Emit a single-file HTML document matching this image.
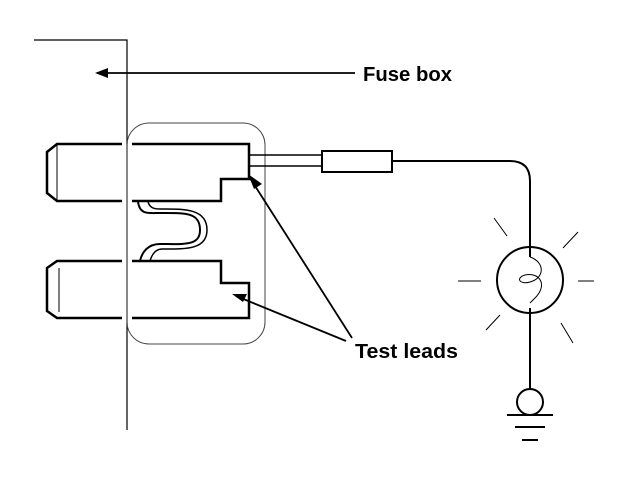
<!DOCTYPE html>
<html><head><style>body{margin:0;background:#fff}svg{display:block}</style></head><body>
<svg width="640" height="498" viewBox="0 0 640 498" xmlns="http://www.w3.org/2000/svg" font-family="Liberation Sans, sans-serif">
<g fill="none" stroke="#000">
<path d="M34 40 H127 V430" stroke-width="1.2"/>
<rect x="127" y="123" width="138" height="221" rx="22" stroke-width="1" stroke="#444"/>
<path d="M122 144 H57 L47 152 V193 L57 201 H122" stroke-width="2.5"/>
<path d="M132 144 H249 V179 H221 V201 H132" stroke-width="2.5"/>
<path d="M57 145 V200" stroke-width="1"/>
<path d="M122 261 H57 L47 268 V311 L57 318 H122" stroke-width="2.5"/>
<path d="M132 261 H221 V283 H249 V318 H132" stroke-width="2.5"/>
<path d="M59 268 V312" stroke-width="1"/>
<path d="M138 202 C140 215 148 213 160 213 C185 213 200 212 200 230 C200 246 185 244 160 244 C148 244 142 252 140 261" stroke-width="2"/>
<path d="M148 202 C150 208 154 209 160 209 C183 209 207 208 207 230 C207 250 185 249 162 249 C156 249 152 254 150 261" stroke-width="1.5"/>
<path d="M249 155 H322 M249 166 H322" stroke-width="1.5"/>
<rect x="322" y="151" width="70" height="21" stroke-width="2"/>
<path d="M392 161 H510 Q530 161 530 181 V250" stroke-width="2"/>
<circle cx="530" cy="280" r="33" stroke-width="2"/>
<path d="M530 249 V257 M530 308 V390" stroke-width="2"/>
<path d="M530 257 C545 262 545 278 530 282 C520 285 515 278 525 275 C540 272 548 285 535 298 L530 303" stroke-width="1"/>
<path d="M458 281 H481 M578 281 H594 M494 218 L507 236 M563 248 L578 232 M486 330 L500 315 M561 323 L573 343" stroke-width="1"/>
<circle cx="530" cy="402" r="13" stroke-width="2"/>
<path d="M507 415 H553 M515 427 H545 M522 440 H538" stroke-width="2"/>
<path d="M352 338 L250 178" stroke-width="1.8"/>
<path d="M346 341 L236 296" stroke-width="1.8"/>
<path d="M355 73 H100" stroke-width="1.8"/>
</g>
<g fill="#000">
<polygon points="248,174 262,184 254,189"/>
<polygon points="232,294 247,294 243,302"/>
<polygon points="95,73 108,68 108,78"/>
</g>
<text x="363" y="81" font-size="20" font-weight="bold" textLength="89" lengthAdjust="spacingAndGlyphs">Fuse box</text>
<text x="355" y="358" font-size="20" font-weight="bold" textLength="103" lengthAdjust="spacingAndGlyphs">Test leads</text>
</svg>
</body></html>
